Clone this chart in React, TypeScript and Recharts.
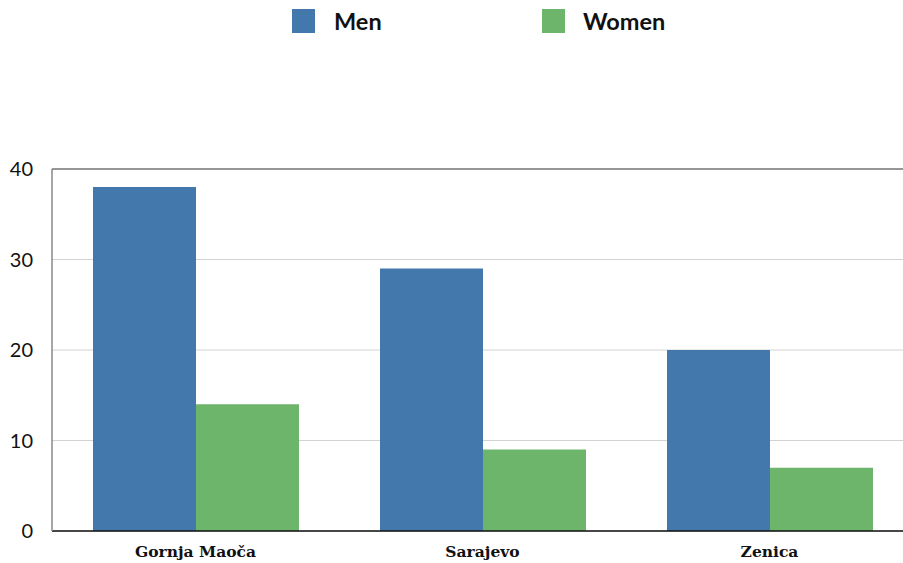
import React from 'react';
import { BarChart, Bar, XAxis, YAxis, CartesianGrid, Legend, ReferenceLine } from 'recharts';

const cities = ['Gornja Maoča', 'Sarajevo', 'Zenica'];
const men = [38, 29, 20];
const women = [14, 9, 7];
const yTicks = [0, 10, 20, 30, 40];

const BLUE = '#4378ac';
const GREEN = '#6cb56a';

const data = cities.map((city, i) => ({ city, Men: men[i], Women: women[i] }));

const LegendBox = () => {
  const items = [
    { label: 'Men', color: BLUE, box: 292, text: 334 },
    { label: 'Women', color: GREEN, box: 542, text: 583 },
  ];
  return (
    <div style={{ position: 'relative', width: 903, height: 42 }}>
      {items.map((it) => (
        <React.Fragment key={it.label}>
          <div style={{ position: 'absolute', left: it.box, top: 9, width: 23, height: 24, background: it.color }} />
          <div
            style={{
              position: 'absolute',
              left: it.text,
              top: 6,
              fontFamily: 'Lato, sans-serif',
              fontWeight: 700,
              fontSize: 23.5,
              lineHeight: '30px',
              color: '#111',
            }}
          >
            {it.label}
          </div>
        </React.Fragment>
      ))}
    </div>
  );
};

export default function App() {
  return (
    <div style={{ position: 'fixed', left: 0, top: 0, width: 903, height: 563, overflow: 'hidden', background: '#fff' }}>
      <BarChart
        width={923}
        height={563}
        data={data}
        margin={{ top: 169, right: 10, bottom: 0, left: 0 }}
        barCategoryGap={41}
        barGap={0}
      >
        <CartesianGrid vertical={false} stroke="#d2d2d2" strokeWidth={1} />
        <ReferenceLine y={40} stroke="#7a7a7a" strokeWidth={1.5} />
        <XAxis
          dataKey="city"
          height={32}
          tickLine={false}
          axisLine={{ stroke: '#111', strokeWidth: 1.5 }}
          tickMargin={9}
          tick={{ fill: '#111', fontSize: 15.5, fontWeight: 700, fontFamily: '"DejaVu Serif", serif' }}
        />
        <YAxis
          width={52}
          domain={[0, 40]}
          ticks={yTicks}
          tickLine={false}
          axisLine={{ stroke: '#888', strokeWidth: 1.5 }}
          tickMargin={13}
          tick={{ fill: '#111', fontSize: 20, fontFamily: 'Lato, sans-serif' }}
        />
        <Legend
          layout="horizontal"
          verticalAlign="middle"
          align="center"
          wrapperStyle={{ top: 0, left: 0, width: 903 }}
          content={() => <LegendBox />}
        />
        <Bar dataKey="Men" fill={BLUE} isAnimationActive={false} />
        <Bar dataKey="Women" fill={GREEN} isAnimationActive={false} />
      </BarChart>
    </div>
  );
}
